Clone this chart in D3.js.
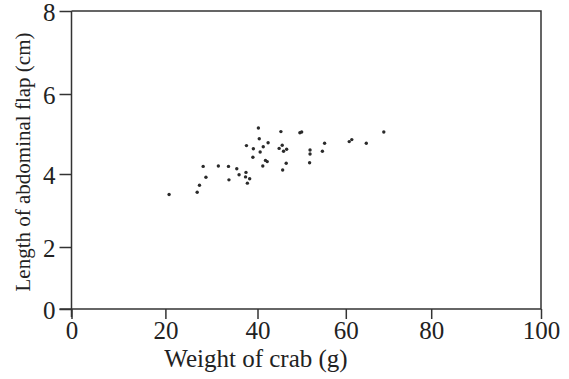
<!DOCTYPE html>
<html>
  <head>
    <script src="https://d3js.org/d3.v7.min.js"></script>
    <style>
      body { margin: 0; background: #fff; }
      .axis text {
        font-family: "Liberation Serif", "Times New Roman", serif;
        font-size: 25px;
        fill: #222;
      }
      .axis path, .axis line { stroke: #333; stroke-width: 1.5; }
      .title {
        font-family: "Liberation Serif", "Times New Roman", serif;
        fill: #222;
      }
    </style>
  </head>
  <body>
    <svg width="569" height="379"></svg>
    <script>
      // weight of crab (g)
      const weights = [
        20.8, 26.9, 27.4, 28.8, 28.2, 31.5, 33.7, 35.5, 33.8, 36.0,
        37.5, 37.4, 38.3, 37.8, 39.0, 40.2, 40.4, 37.6, 39.1, 40.6,
        41.3, 42.4, 41.8, 42.2, 41.2, 45.3, 49.6, 50.0, 45.6, 44.9,
        45.9, 46.6, 46.5, 45.7, 51.9, 51.9, 51.8, 55.2, 54.7, 60.8,
        61.4, 64.8, 68.9
      ];
      // length of abdominal flap (cm)
      const flapLengths = [
        3.44, 3.50, 3.69, 3.91, 4.19, 4.20, 4.19, 4.13, 3.84, 3.98,
        4.04, 3.92, 3.87, 3.75, 4.42, 5.15, 4.88, 4.71, 4.63, 4.55,
        4.68, 4.78, 4.34, 4.31, 4.20, 5.06, 5.03, 5.05, 4.72, 4.64,
        4.57, 4.62, 4.27, 4.10, 4.60, 4.50, 4.28, 4.77, 4.57, 4.81,
        4.86, 4.77, 5.05
      ];
      const xTicks = [0, 20, 40, 60, 80, 100];
      const yTicks = [0, 2, 4, 6, 8];

      const svg = d3.select("svg");

      // the scanned figure is slightly uneven, so map each tick separately
      const x = d3.scaleLinear()
        .domain(xTicks)
        .range([71.5, 165.4, 257.5, 345.8, 431.2, 541]);
      const y = d3.scaleLinear()
        .domain(yTicks)
        .range([309, 247, 174, 94, 11]);

      // frame top and right
      svg.append("path")
        .attr("d", `M${x(0)},${y(8)}H${x(100)}V${y(0)}`)
        .attr("fill", "none")
        .attr("stroke", "#333")
        .attr("stroke-width", 1.5);

      const xAxis = svg.append("g")
        .attr("class", "axis")
        .attr("transform", `translate(0,${y(0)})`)
        .call(d3.axisBottom(x).tickValues(xTicks).tickSize(10).tickPadding(2).tickSizeOuter(0));
      xAxis.select(".domain").attr("d", `M${x(0) - 12},0H${x(100)}`);

      const yAxis = svg.append("g")
        .attr("class", "axis")
        .attr("transform", `translate(${x(0)},0)`)
        .call(d3.axisLeft(y).tickValues(yTicks).tickSize(12).tickPadding(4).tickSizeOuter(0));
      yAxis.select(".domain").attr("d", `M0,${y(8)}V${y(0) + 8}`);
      yAxis.selectAll(".tick text").attr("dy", "0.36em");

      svg.append("text")
        .attr("class", "title")
        .attr("x", 256)
        .attr("y", 367)
        .attr("text-anchor", "middle")
        .attr("font-size", 25)
        .text("Weight of crab (g)");

      svg.append("text")
        .attr("class", "title")
        .attr("transform", "translate(30,162) rotate(-90)")
        .attr("text-anchor", "middle")
        .attr("font-size", 21)
        .text("Length of abdominal  flap (cm)");

      svg.append("g")
        .selectAll("circle")
        .data(weights.map((w, i) => [w, flapLengths[i]]))
        .join("circle")
          .attr("cx", d => x(d[0]))
          .attr("cy", d => y(d[1]))
          .attr("r", 1.7)
          .attr("fill", "#2a2a2a");
    </script>
  </body>
</html>
